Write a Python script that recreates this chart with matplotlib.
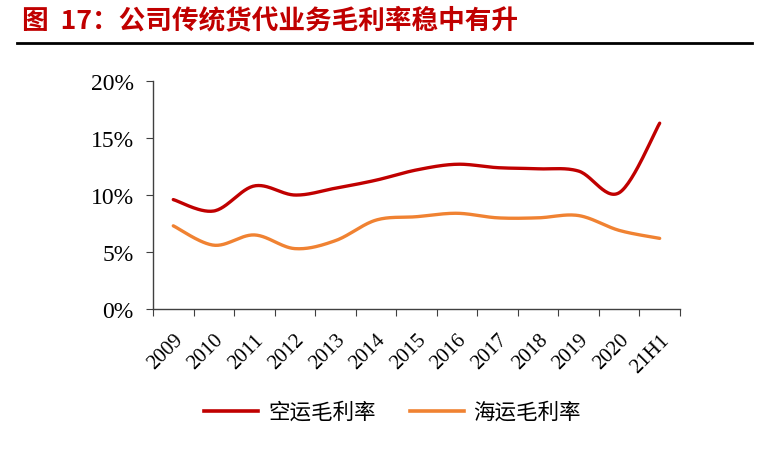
import numpy as np
import matplotlib
matplotlib.use('Agg')
import matplotlib.pyplot as plt
from matplotlib.lines import Line2D

years = ['2009', '2010', '2011', '2012', '2013', '2014', '2015',
         '2016', '2017', '2018', '2019', '2020', '21H1']
air = [9.6, 8.6, 10.8, 10.0, 10.6, 11.3, 12.2, 12.7, 12.4, 12.3, 12.1, 10.2, 16.3]
sea = [7.3, 5.6, 6.5, 5.3, 6.0, 7.8, 8.1, 8.4, 8.0, 8.0, 8.2, 6.9, 6.2]
yticks = [0, 5, 10, 15, 20]

RED = '#C00000'
ORANGE = '#F08232'


def smooth(x, y, n=30):
    # Excel-style smoothing: Catmull-Rom bezier between points
    x = np.asarray(x, float)
    y = np.asarray(y, float)
    px, py = [], []
    for i in range(len(x) - 1):
        x0, y0 = (x[i - 1], y[i - 1]) if i > 0 else (x[i], y[i])
        x3, y3 = (x[i + 2], y[i + 2]) if i + 2 < len(x) else (x[i + 1], y[i + 1])
        x1, y1, x2, y2 = x[i], y[i], x[i + 1], y[i + 1]
        c1x, c1y = x1 + (x2 - x0) / 6, y1 + (y2 - y0) / 6
        c2x, c2y = x2 - (x3 - x1) / 6, y2 - (y3 - y1) / 6
        t = np.linspace(0, 1, n)
        bx = (1 - t) ** 3 * x1 + 3 * (1 - t) ** 2 * t * c1x + 3 * (1 - t) * t ** 2 * c2x + t ** 3 * x2
        by = (1 - t) ** 3 * y1 + 3 * (1 - t) ** 2 * t * c1y + 3 * (1 - t) * t ** 2 * c2y + t ** 3 * y2
        px.extend(bx)
        py.extend(by)
    return px, py


fig = plt.figure(figsize=(7.67, 4.52), dpi=100)
ax = fig.add_axes([0.1995, 0.314, 0.687, 0.5046])

xs = np.arange(len(years))
sx, sy = smooth(xs, air)
ax.plot(sx, sy, color=RED, lw=2.4, solid_capstyle='round')
sx, sy = smooth(xs, sea)
ax.plot(sx, sy, color=ORANGE, lw=2.4, solid_capstyle='round')

ax.set_xlim(-0.5, len(years) - 0.5)
ax.set_ylim(0, 20)
ax.set_yticks(yticks)
ax.set_yticklabels([f'{v}%' for v in yticks], fontfamily='Liberation Serif', fontsize=17)
ax.set_xticks(np.arange(len(years) + 1) - 0.5)
ax.set_xticklabels([])
ax.set_xticks(xs, minor=True)
ax.set_xticklabels(years, minor=True, rotation=45, ha='right', va='top',
                   rotation_mode='anchor', fontfamily='Liberation Serif', fontsize=15)
ax.tick_params(axis='x', which='minor', length=0, pad=15)
ax.tick_params(axis='x', which='major', length=5, color='#404040')
ax.tick_params(axis='y', length=5, color='#404040', pad=9)
for s in ['top', 'right']:
    ax.spines[s].set_visible(False)
for s in ['left', 'bottom']:
    ax.spines[s].set_color('#404040')
    ax.spines[s].set_linewidth(1.0)

handles = [Line2D([], [], color=RED, lw=2.6), Line2D([], [], color=ORANGE, lw=2.6)]
fig.legend(handles, ['空运毛利率', '海运毛利率'], loc='center', bbox_to_anchor=(0.512, 0.086),
           ncol=2, frameon=False, prop={'family': 'Noto Sans CJK SC', 'size': 15.5},
           handlelength=2.5, columnspacing=1.6, handletextpad=0.45)

fig.text(0.029, 0.955, '图  17：公司传统货代业务毛利率稳中有升', color=RED,
         fontfamily=['Noto Sans CJK SC', 'DejaVu Sans'], fontweight='bold',
         fontsize=19.2, va='center', ha='left')
fig.add_artist(Line2D([0.022, 0.981], [0.903, 0.903], color='black', lw=2))

fig.savefig('out.png', dpi=100)
